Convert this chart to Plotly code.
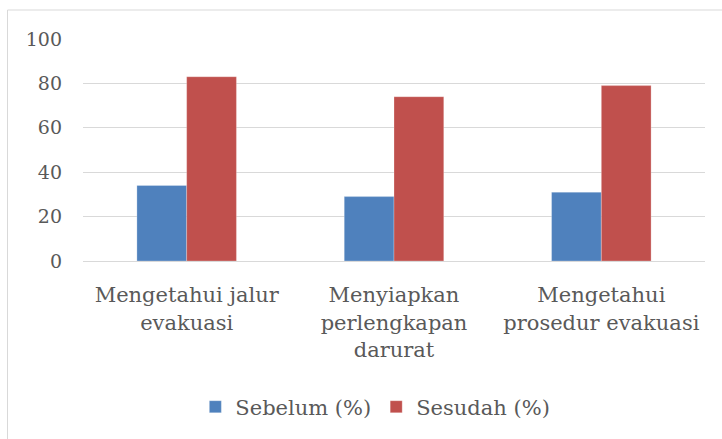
import plotly.graph_objects as go

categories = ["Mengetahui jalur<br>evakuasi", "Menyiapkan<br>perlengkapan<br>darurat", "Mengetahui<br>prosedur evakuasi"]
sebelum = [34, 29, 31]
sesudah = [83, 74, 79]
series_names = ["Sebelum (%)", "Sesudah (%)"]
y_ticks = [0, 20, 40, 60, 80, 100]

FONT = "DejaVu Serif"
TXT = "#595959"

fig = go.Figure()
fig.add_trace(go.Bar(x=categories, y=sebelum, name=series_names[0],
                     marker=dict(color="#4F81BD", line=dict(color="rgba(255,255,255,0.25)", width=1))))
fig.add_trace(go.Bar(x=categories, y=sesudah, name=series_names[1],
                     marker=dict(color="#C0504D", line=dict(color="rgba(255,255,255,0.25)", width=1))))

L, R, T, B = 83, 705, 39, 261
W, H = 722, 439
fig.update_layout(
    width=W, height=H,
    margin=dict(l=L, r=W - R, t=T, b=H - B, pad=0),
    paper_bgcolor="white", plot_bgcolor="white",
    barmode="group", bargap=0.52, bargroupgap=0,
    font=dict(family=FONT, size=21, color=TXT),
    showlegend=True,
    legend=dict(orientation="h", x=0.47, xanchor="center", y=-0.658, yanchor="middle",
                font=dict(family=FONT, size=21, color=TXT), itemwidth=30,
                traceorder="normal"),
    xaxis=dict(showgrid=False, showline=True, linecolor="#D9D9D9", linewidth=1,
               ticks="", ticklabelstandoff=15,
               tickfont=dict(family=FONT, size=21, color=TXT)),
    yaxis=dict(range=[0, 100], tickvals=y_ticks, showgrid=True, gridcolor="#D9D9D9",
               gridwidth=1, zeroline=False, showline=False, ticks="",
               ticklabelstandoff=20, tickfont=dict(family=FONT, size=19, color=TXT)),
)

# outer chart border (left and top visible)
px2x = lambda p: (p - L) / (R - L)
px2y = lambda p: (B - p) / (B - T)
fig.add_shape(type="line", xref="paper", yref="paper",
              x0=px2x(7.5), x1=px2x(730), y0=px2y(10), y1=px2y(10),
              line=dict(color="#D9D9D9", width=1))
fig.add_shape(type="line", xref="paper", yref="paper",
              x0=px2x(7.5), x1=px2x(7.5), y0=px2y(10), y1=px2y(445),
              line=dict(color="#D9D9D9", width=1))

fig.write_html("out.html", config={"displayModeBar": False},
               post_script="document.body.style.margin='0';document.body.style.overflow='hidden';")
